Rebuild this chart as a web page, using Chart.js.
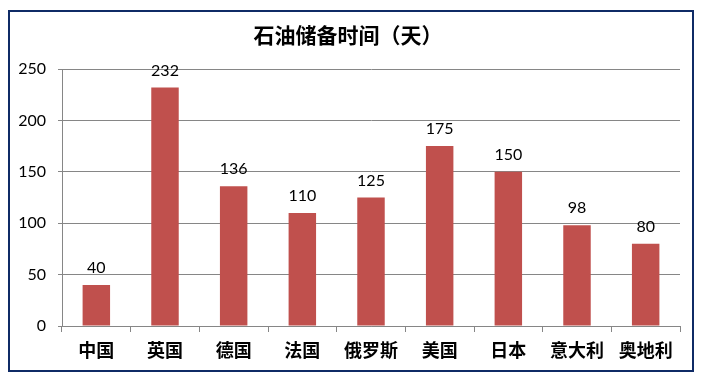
<!DOCTYPE html>
<html>
<head>
<meta charset="utf-8">
<script src="https://cdn.jsdelivr.net/npm/chart.js@4/dist/chart.umd.min.js"></script>
<style>
  html, body { margin: 0; padding: 0; background: #fff; }
  #wrap { width: 702px; height: 378px; position: relative; }
</style>
</head>
<body>
<div id="wrap"><canvas id="oilChart" width="702" height="378"></canvas></div>
<script>
// ----------------------------
// DATA
// ----------------------------
const chartTitle = '石油储备时间（天）';
const countries = ['中国', '英国', '德国', '法国', '俄罗斯', '美国', '日本', '意大利', '奥地利'];
const reserveDays = [40, 232, 136, 110, 125, 175, 150, 98, 80];
const yTicks = [0, 50, 100, 150, 200, 250];

const barColor = '#C0504D';
const gridColor = '#868686';
const frameColor = '#0F2B66';

// ----------------------------
// PLUGINS
// ----------------------------
// outer frame + title, drawn like the Excel chart border
const framePlugin = {
  id: 'frame',
  beforeDraw(chart) {
    const ctx = chart.ctx;
    ctx.save();
    ctx.fillStyle = '#fff';
    ctx.fillRect(0, 0, chart.width, chart.height);
    ctx.strokeStyle = frameColor;
    ctx.lineWidth = 2;
    ctx.strokeRect(9, 11, 684, 360);
    ctx.fillStyle = '#000';
    ctx.font = 'bold 21px "Noto Sans CJK SC"';
    ctx.textAlign = 'center';
    ctx.textBaseline = 'middle';
    ctx.fillText(chartTitle, 348, 35);
    ctx.restore();
  }
};

// value labels above each bar
const valueLabels = {
  id: 'valueLabels',
  afterDatasetsDraw(chart) {
    const ctx = chart.ctx;
    const meta = chart.getDatasetMeta(0);
    ctx.save();
    ctx.fillStyle = '#000';
    ctx.font = '16px Lato';
    ctx.textAlign = 'center';
    ctx.textBaseline = 'bottom';
    meta.data.forEach((bar, i) => {
      ctx.fillText(String(reserveDays[i]), bar.x, bar.y - 9);
    });
    ctx.restore();
  }
};

// ----------------------------
// CHART
// ----------------------------
const ctx = document.getElementById('oilChart').getContext('2d');

new Chart(ctx, {
  type: 'bar',
  data: {
    labels: countries,
    datasets: [{
      data: reserveDays,
      backgroundColor: barColor,
      barPercentage: 0.4,
      categoryPercentage: 1
    }]
  },
  options: {
    responsive: false,
    animation: false,
    layout: { padding: { top: 69, left: 10, right: 22, bottom: 12 } },
    plugins: {
      legend: { display: false },
      title: { display: false },
      tooltip: { enabled: false }
    },
    scales: {
      x: {
        grid: {
          drawOnChartArea: false,
          drawTicks: true,
          tickLength: 6,
          color: gridColor
        },
        border: { color: gridColor, width: 1 },
        ticks: {
          color: '#000',
          padding: 7,
          font: { family: '"Noto Sans CJK SC"', size: 18, weight: 'bold' }
        },
        afterFit(scale) { scale.height = 40; }
      },
      y: {
        min: 0,
        max: 250,
        afterBuildTicks(scale) {
          scale.ticks = yTicks.map(v => ({ value: v }));
        },
        grid: {
          color: gridColor,
          tickLength: 4
        },
        border: { color: gridColor, width: 1 },
        ticks: {
          color: '#000',
          padding: 12,
          font: { family: 'Lato', size: 16 }
        },
        afterFit(scale) { scale.width = 52; }
      }
    }
  },
  plugins: [framePlugin, valueLabels]
});
</script>
</body>
</html>
